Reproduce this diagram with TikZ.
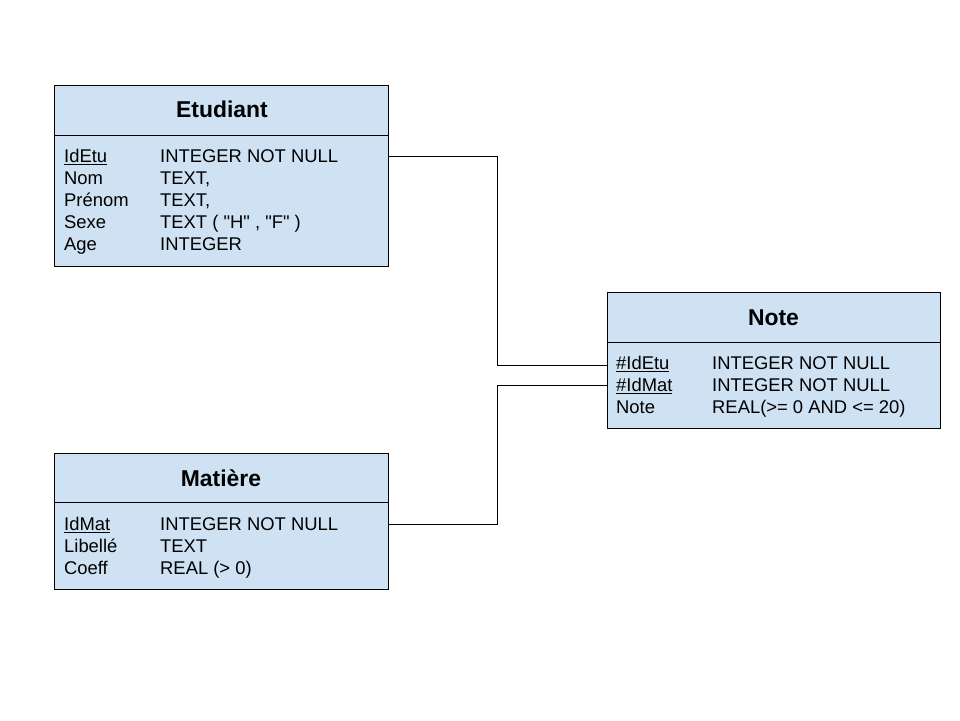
\documentclass[tikz,border=0pt]{standalone}
\usepackage{fontspec}
\setmainfont{Liberation Sans}
\definecolor{tblblue}{HTML}{CFE2F3}
\begin{document}
\begin{tikzpicture}[x=1pt,y=-1pt,
  tbl/.style={draw=black, fill=tblblue, line width=1pt, inner sep=0pt, anchor=north west},
  divider/.style={draw=black, line width=1pt},
  conn/.style={draw=black, line width=1pt},
  ttl/.style={font=\fontsize{22.9pt}{26pt}\selectfont\bfseries, anchor=base, inner sep=0pt},
  fld/.style={font=\fontsize{18.4pt}{22pt}\selectfont, anchor=base west, inner sep=0pt}]
\useasboundingbox (0,0) rectangle (960,720);
% Etudiant
\node[tbl, minimum width=334pt, minimum height=181pt] (etu) at (54,85) {};
\draw[divider] (etu.west |- 0,135) -- (etu.east |- 0,135);
\node[ttl] (etuT) at (222,117.4) {Etudiant};
\node[fld] (etuA1) at (64,162.7) {\underline{IdEtu}};
\node[fld] (etuB1) at (160,162.7) {INTEGER NOT NULL};
\node[fld] (etuA2) at (64,184.7) {Nom};
\node[fld] (etuB2) at (160,184.7) {TEXT,};
\node[fld] (etuA3) at (64,206.7) {Prénom};
\node[fld] (etuB3) at (160,206.7) {TEXT,};
\node[fld] (etuA4) at (64,228.7) {Sexe};
\node[fld] (etuB4) at (160,228.7) {TEXT ( \textquotedbl H\textquotedbl{} , \textquotedbl F\textquotedbl{} )};
\node[fld] (etuA5) at (64,250.7) {Age};
\node[fld] (etuB5) at (160,250.7) {INTEGER};
% Note
\node[tbl, minimum width=333pt, minimum height=136pt] (note) at (607,292) {};
\draw[divider] (note.west |- 0,342) -- (note.east |- 0,342);
\node[ttl] (noteT) at (773.5,325.5) {Note};
\node[fld] (noteA1) at (616,369.3) {\underline{\#IdEtu}};
\node[fld] (noteB1) at (712,369.3) {INTEGER NOT NULL};
\node[fld] (noteA2) at (616,391.3) {\underline{\#IdMat}};
\node[fld] (noteB2) at (712,391.3) {INTEGER NOT NULL};
\node[fld] (noteA3) at (616,413.3) {Note};
\node[fld] (noteB3) at (712,413.3) {REAL(>= 0 AND <= 20)};
% Matiere
\node[tbl, minimum width=334pt, minimum height=136pt] (mat) at (54,453) {};
\draw[divider] (mat.west |- 0,502) -- (mat.east |- 0,502);
\node[ttl] (matT) at (221,486.5) {Matière};
\node[fld] (matA1) at (64,530.7) {\underline{IdMat}};
\node[fld] (matB1) at (160,530.7) {INTEGER NOT NULL};
\node[fld] (matA2) at (64,552.7) {Libellé};
\node[fld] (matB2) at (160,552.7) {TEXT};
\node[fld] (matA3) at (64,574.7) {Coeff};
\node[fld] (matB3) at (160,574.7) {REAL (> 0)};
% connectors
\draw[conn] (etu.east |- 0,156) -| (497,365) -- (note.west |- 0,365);
\draw[conn] (mat.east |- 0,524) -| (497,385) -- (note.west |- 0,385);
\end{tikzpicture}
\end{document}
